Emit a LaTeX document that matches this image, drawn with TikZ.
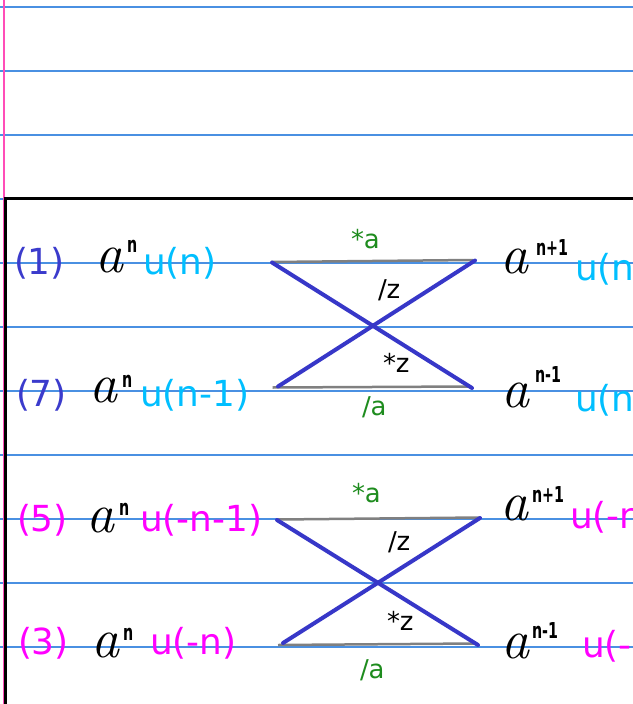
\documentclass[tikz,border=0pt]{standalone}
\usepackage{fontspec}
\usepackage{graphicx}
\newfontfamily\dv{DejaVu Sans}
\definecolor{rule}{HTML}{4A90E2}
\definecolor{margin}{HTML}{FF4DB8}
\definecolor{numblue}{HTML}{3B3BCC}
\definecolor{ucyan}{HTML}{00BFFF}
\definecolor{umag}{HTML}{FF00FF}
\definecolor{lgreen}{HTML}{1E8C1E}
\definecolor{xblue}{HTML}{3737C8}
\definecolor{xgray}{HTML}{808080}
\tikzset{
  txt/.style={anchor=base west, inner sep=0pt, outer sep=0pt, font=\dv\fontsize{36}{40}\selectfont},
  hand/.style={anchor=base west, inner sep=0pt, outer sep=0pt, font=\fontsize{56}{60}\selectfont\itshape},
  supn/.style={anchor=base west, inner sep=0pt, outer sep=0pt, font=\dv\bfseries\fontsize{22}{24}\selectfont},
  lab/.style={anchor=base west, inner sep=0pt, outer sep=0pt, font=\dv\fontsize{26}{28}\selectfont},
  xline/.style={draw=xblue, line width=4bp, line cap=round},
  gline/.style={draw=xgray, line width=2.5bp},
}
\newcommand{\supsc}[1]{\scalebox{0.65}[1]{#1}}
\begin{document}
\begin{tikzpicture}[x=1bp,y=-1bp]
\useasboundingbox (0,0) rectangle (633,704);
\clip (0,0) rectangle (633,704);
\fill[white] (0,0) rectangle (633,704);
% ruled lines
\foreach \yy in {7,71,135,199,263,327,391,455,519,583,647}
  \draw[rule, line width=1.3bp] (0,\yy) -- (633,\yy);
% margin line
\draw[margin, line width=2.2bp] (4,0) -- (4,704);
% frame
\draw[black, line width=3.5bp] (5.7,704) -- (5.7,198.5) -- (633,198.5);

% ---------- cross 1 ----------
\coordinate (t1l) at (272,262.5);
\coordinate (t1r) at (475,260.5);
\coordinate (b1l) at (278,386.5);
\coordinate (b1r) at (472,388);
\coordinate (g1tl) at (271.5,262);
\coordinate (g1tr) at (473,260);
\coordinate (g1bl) at (272.5,387.5);
\coordinate (g1br) at (470,386.5);
\draw[gline] (g1tl) -- (g1tr);
\draw[gline] (g1bl) -- (g1br);
\draw[xline] (t1l) -- (b1r);
\draw[xline] (b1l) -- (t1r);

% ---------- cross 2 ----------
\coordinate (t2l) at (277,520);
\coordinate (t2r) at (480,518);
\coordinate (b2l) at (283,643);
\coordinate (b2r) at (478,645);
\coordinate (g2tl) at (278,519.5);
\coordinate (g2tr) at (480,517.5);
\coordinate (g2bl) at (278,645);
\coordinate (g2br) at (475,643.5);
\draw[gline] (g2tl) -- (g2tr);
\draw[gline] (g2bl) -- (g2br);
\draw[xline] (t2l) -- (b2r);
\draw[xline] (b2l) -- (t2r);

% ---------- labels cross 1 ----------
\node[lab, text=lgreen] (l1a) at (351,248) {*a};
\node[lab] (l1b) at (378,298) {/z};
\node[lab] (l1c) at (383,372) {*z};
\node[lab, text=lgreen] (l1d) at (362,415) {/a};
% ---------- labels cross 2 ----------
\node[lab, text=lgreen] (l2a) at (352,502) {*a};
\node[lab] (l2b) at (388,550) {/z};
\node[lab] (l2c) at (387,630) {*z};
\node[lab, text=lgreen] (l2d) at (360,678) {/a};

% ---------- row (1) ----------
\node[txt, text=numblue] (n1) at (14,274) {(1)};
\node[hand] (a1) at (95,272) {a};
\node[supn] (s1) at (127,252) {\supsc{n}};
\node[txt, text=ucyan] (u1) at (143,274) {u(n)};
\node[hand] (ra1) at (500,273) {a};
\node[supn] (rs1) at (536,255) {\supsc{n+1}};
\node[txt, text=ucyan] (ru1) at (575,280) {u(n};

% ---------- row (7) ----------
\node[txt, text=numblue] (n7) at (16,406) {(7)};
\node[hand] (a7) at (89,402) {a};
\node[supn] (s7) at (122,387) {\supsc{n}};
\node[txt, text=ucyan] (u7) at (140,406) {u(n-1)};
\node[hand] (ra7) at (501,407) {a};
\node[supn] (rs7) at (535,382) {\supsc{n-1}};
\node[txt, text=ucyan] (ru7) at (575,411) {u(n};

% ---------- row (5) ----------
\node[txt, text=umag] (n5) at (17,531) {(5)};
\node[hand] (a5) at (86,532) {a};
\node[supn] (s5) at (119,515) {\supsc{n}};
\node[txt, text=umag] (u5) at (140,531) {u(-n-1)};
\node[hand] (ra5) at (500,520) {a};
\node[supn] (rs5) at (532,502) {\supsc{n+1}};
\node[txt, text=umag] (ru5) at (570,528) {u(-n};

% ---------- row (3) ----------
\node[txt, text=umag] (n3) at (18,654) {(3)};
\node[hand] (a3) at (91,657) {a};
\node[supn] (s3) at (123,640) {\supsc{n}};
\node[txt, text=umag] (u3) at (150,654) {u(-n)};
\node[hand] (ra3) at (501,658) {a};
\node[supn] (rs3) at (532,638) {\supsc{n-1}};
\node[txt, text=umag] (ru3) at (582,657) {u(-n};
\end{tikzpicture}
\end{document}
